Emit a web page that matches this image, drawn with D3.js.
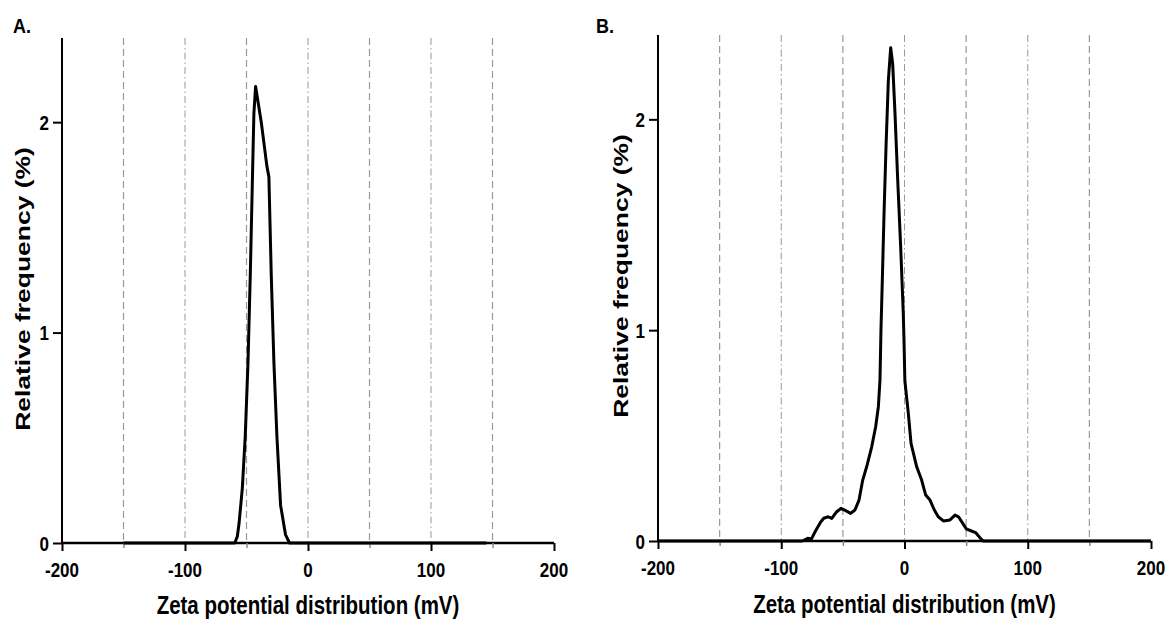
<!DOCTYPE html>
<html>
<head>
<meta charset="utf-8">
<script src="https://cdn.jsdelivr.net/npm/d3@7"></script>
<style>
  body { margin: 0; background: #fff; }
  svg { display: block; }
  text { font-family: "Liberation Sans", Arial, sans-serif; font-weight: bold; fill: #000; }
</style>
</head>
<body>
<svg id="chart" width="1169" height="626"></svg>
<script>
const xTicks = [-200, -100, 0, 100, 200];
const xMinor = [-150, -50, 50, 150];
const yTicks = [0, 1, 2];

// panel A: zeta (mV) / relative frequency (%)
const zetaA = [-150, -59.6, -57.5, -56.1, -53.4, -51, -48.8, -46.9, -45.3, -44, -42.6, -38, -33.4, -31.8, -29.9, -27.7, -25.3, -22.3, -18.3, -15, 145];
const freqA = [0, 0, 0.03, 0.09, 0.26, 0.51, 0.855, 1.28, 1.70, 2.04, 2.17, 2.0, 1.79, 1.74, 1.28, 0.855, 0.51, 0.18, 0.04, 0, 0];

// panel B
const zetaB = [-200, -83, -78.5, -75.5, -72, -68, -65.5, -62, -59, -55, -51.5, -47.7, -43.7, -40.2, -36.9, -33.9, -30.7, -26.6, -23.4, -21.2, -19.9, -19.1, -18, -16.6, -15, -13.1, -11.2, -9.6, -7.7, -5.5, -3.1, -1, -0.4, 0.3, 3.1, 5.3, 9.9, 13.9, 17.2, 20.7, 24.2, 27.4, 31.5, 36.9, 41, 44, 50.2, 57.7, 62, 64, 200];
const freqB = [0, 0, 0.013, 0.01, 0.05, 0.09, 0.108, 0.115, 0.107, 0.139, 0.155, 0.144, 0.131, 0.147, 0.194, 0.289, 0.352, 0.447, 0.542, 0.637, 0.763, 1.0, 1.237, 1.553, 1.869, 2.185, 2.34, 2.264, 2.027, 1.711, 1.395, 1.079, 0.95, 0.76, 0.605, 0.463, 0.352, 0.289, 0.218, 0.194, 0.147, 0.115, 0.095, 0.1, 0.123, 0.113, 0.057, 0.04, 0.01, 0, 0];

const svg = d3.select("#chart");

function stretchedText(parent, x, y, str, opts) {
  const g = parent.append("g")
    .attr("transform", `translate(${x},${y}) rotate(${opts.rotate || 0}) scale(${opts.sx || 1},${opts.sy || 1})`);
  g.append("text")
    .attr("text-anchor", opts.anchor || "middle")
    .style("font-size", opts.size + "px")
    .text(str);
  return g;
}

function drawPanel({ left, right, top, bottom, label, zeta, freq, titleY, titleX }) {
  const x = d3.scaleLinear().domain([-200, 200]).range([left, right]);
  const y = d3.scaleLinear().domain([0, 2.4]).range([bottom, top]);
  const g = svg.append("g");

  // grid
  g.selectAll("line.grid-major").data(xTicks.filter((d) => d > -200 && d < 200)).join("line")
    .attr("x1", (d) => x(d)).attr("x2", (d) => x(d))
    .attr("y1", top).attr("y2", bottom)
    .attr("stroke", "#999").attr("stroke-width", 1)
    .attr("stroke-dasharray", "7,3,1.5,3");
  g.selectAll("line.grid-minor").data(xMinor).join("line")
    .attr("x1", (d) => x(d)).attr("x2", (d) => x(d))
    .attr("y1", top).attr("y2", bottom)
    .attr("stroke", "#999").attr("stroke-width", 1.2)
    .attr("stroke-dasharray", "7,4");

  // x axis
  const xa = g.append("g").attr("transform", `translate(0,${bottom})`)
    .call(d3.axisBottom(x).tickValues(xTicks).tickSize(8).tickFormat(() => ""));
  xa.select(".domain").attr("stroke", "#000").attr("stroke-width", 2.5).attr("d", `M${left},0H${right}`);
  xa.selectAll(".tick line").attr("stroke-width", 2);
  g.append("g").attr("transform", `translate(0,${bottom})`)
    .call(d3.axisBottom(x).tickValues(xMinor).tickSize(5).tickFormat(() => ""))
    .call((s) => s.select(".domain").remove())
    .selectAll(".tick line").attr("stroke", "#888").attr("stroke-width", 1.5);
  xTicks.forEach((t) => stretchedText(g, x(t), bottom + 34, t, { size: 17, sy: 1.22 }));

  // y axis
  const ya = g.append("g").attr("transform", `translate(${left},0)`)
    .call(d3.axisLeft(y).tickValues(yTicks).tickSize(9).tickFormat(() => ""));
  ya.select(".domain").attr("stroke", "#000").attr("stroke-width", 2).attr("d", `M0,${top}V${bottom}`);
  ya.selectAll(".tick line").attr("stroke-width", 2);
  yTicks.forEach((t) => stretchedText(g, left - 13, y(t) + 7.5, t, { size: 17, sy: 1.22, anchor: "end" }));

  // curve
  const pts = zeta.map((z, i) => [z, freq[i]]);
  g.append("path").datum(pts)
    .attr("fill", "none").attr("stroke", "#000").attr("stroke-width", 3)
    .attr("stroke-linejoin", "round")
    .attr("d", d3.line().x((d) => x(d[0])).y((d) => y(d[1])));

  // titles
  stretchedText(g, (left + right) / 2, titleX, "Zeta potential distribution (mV)", { size: 20.5, sy: 1.25 });
  stretchedText(g, titleY[0], titleY[1], "Relative frequency (%)", { size: 21, rotate: -90, sx: 1.26 });
  stretchedText(g, label[1], 33, label[0], { size: 18, sy: 1.15, anchor: "start" });
}

drawPanel({ left: 62, right: 554, top: 38, bottom: 543, label: ["A.", 13], zeta: zetaA, freq: freqA, titleY: [30, 289], titleX: 614 });
drawPanel({ left: 658, right: 1151, top: 35, bottom: 541, label: ["B.", 596], zeta: zetaB, freq: freqB, titleY: [628, 276], titleX: 613 });
</script>
</body>
</html>
